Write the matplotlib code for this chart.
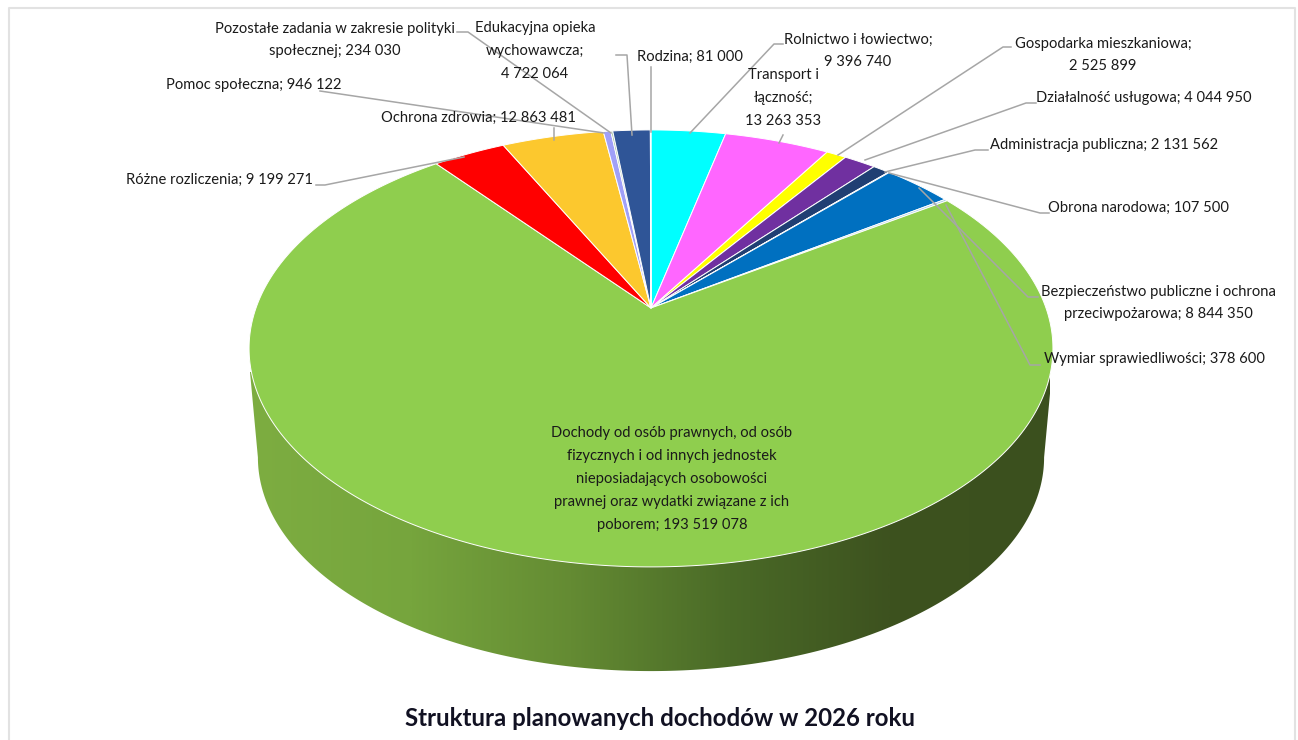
import numpy as np
import matplotlib
matplotlib.use('Agg')
import matplotlib.pyplot as plt
from matplotlib.colors import LinearSegmentedColormap
from matplotlib.patches import Polygon

plt.rcParams['font.family'] = ['Lato', 'DejaVu Sans']

# Slices in clockwise order, starting from the top of the pie
names = ['Rolnictwo i łowiectwo', 'Transport i łączność', 'Gospodarka mieszkaniowa',
         'Działalność usługowa', 'Administracja publiczna', 'Obrona narodowa',
         'Bezpieczeństwo publiczne i ochrona przeciwpożarowa', 'Wymiar sprawiedliwości',
         'Dochody od osób prawnych', 'Różne rozliczenia', 'Ochrona zdrowia',
         'Pomoc społeczna', 'Pozostałe zadania', 'Edukacyjna opieka wychowawcza', 'Rodzina']
values = [9396740, 13263353, 2525899, 4044950, 2131562, 107500, 8844350, 378600,
          193519078, 9199271, 12863481, 946122, 234030, 4722064, 81000]
colors = ['#00FFFF', '#FF66FF', '#FFFF00', '#7030A0', '#203F73', '#8FA8C8', '#0070C0', '#A6C8E6',
          '#8FCE4E', '#FF0000', '#FCC82E', '#A0A0F8', '#9CC09C', '#2F5597', '#8FAADC']

# Label text and position (px), elbow and end of the leader line
labels = ['Rolnictwo i łowiectwo;\n9 396 740', 'Transport i\nłączność;\n13 263 353',
          'Gospodarka mieszkaniowa;\n2 525 899', 'Działalność usługowa; 4 044 950',
          'Administracja publiczna; 2 131 562', 'Obrona narodowa; 107 500',
          'Bezpieczeństwo publiczne i ochrona\nprzeciwpożarowa; 8 844 350',
          'Wymiar sprawiedliwości; 378 600',
          'Dochody od osób prawnych, od osób\nfizycznych i od innych jednostek\n'
          'nieposiadających osobowości\nprawnej oraz wydatki związane z ich\npoborem; 193 519 078',
          'Różne rozliczenia; 9 199 271', 'Ochrona zdrowia; 12 863 481', 'Pomoc społeczna; 946 122',
          'Pozostałe zadania w zakresie polityki\nspołecznej; 234 030',
          'Edukacyjna opieka\nwychowawcza;\n4 722 064', 'Rodzina; 81 000']
label_x = [858, 783, 1103, 1144, 1104, 1138, 1158, 1155, 672, 219, 478, 254, 335, 535, 690]
label_y = [51, 98, 55, 98, 145, 208, 303, 359, 479, 180, 118, 85, 40, 51, 57]
leaders = [[(783, 44), (774, 44), (690, 133)], [(783, 135), (779, 143)],
           [(1011, 47), (1003, 47), (838, 155)], [(1036, 103), (1026, 103), (865, 160)],
           [(988, 150), (975, 150), (885, 172)], [(1049, 213), (1040, 213), (889, 173)],
           [(1038, 297), (1028, 297), (919, 188)], [(1040, 365), (1030, 365), (946, 205)],
           [], [(316, 185), (325, 185), (464, 157)], [(554, 128), (554, 140)],
           [(320, 91), (604, 133)], [(457, 32), (468, 32), (611, 133)],
           [(616, 55), (627, 55), (632, 135)], [(651, 67), (651, 132)]]

side_stops = ['#7DAD41', '#76A53D', '#648B33', '#4A6A27', '#3D521F', '#3B501E']

# Perspective of the pie top: apex at (cx, cy), k is the foreshortening
cx, cy = 651, 308
A, B, k = 395, 211, 0.185


def project(theta, r=1.0):
    u = r * np.sin(theta)
    v = r * np.cos(theta)
    w = 1 + k * v
    return cx + A * u / w, cy - B * v / w


fig = plt.figure(figsize=(12.98, 7.4), dpi=100, facecolor='white')
ax = fig.add_axes([0, 0, 1, 1])

# Side wall: lower rim is the top rim, a bit smaller and moved down
widest = np.arccos(-k)
t = np.linspace(widest, 2 * np.pi - widest, 300)
rim_x, rim_y = project(t)
rim_mid = cy + 40
low_x = cx + (rim_x - cx) * 0.978
low_y = rim_mid + (rim_y - rim_mid) * 0.978 + 109
side_x = np.r_[1052, low_x, 250]
side_y = np.r_[372, low_y, 372]
side_cmap = LinearSegmentedColormap.from_list('side', side_stops)
grad = ax.imshow(np.linspace(0, 1, 512).reshape(1, -1), cmap=side_cmap, extent=[250, 1050, 680, 340],
                 aspect='auto', zorder=1)
clip = Polygon(np.c_[side_x, side_y], closed=True, transform=ax.transData)
grad.set_clip_path(clip)

# Pie top
angles = np.r_[0, np.cumsum(values)] / sum(values) * 2 * np.pi
for i in range(len(values)):
    n = max(int((angles[i + 1] - angles[i]) * 200), 3)
    x, y = project(np.linspace(angles[i], angles[i + 1], n))
    ax.fill(np.r_[cx, x], np.r_[cy, y], color=colors[i], ec='white', lw=0.7, zorder=2, joinstyle='round')

# Leader lines and labels
for i in range(len(labels)):
    if leaders[i]:
        px, py = zip(*leaders[i])
        ax.plot(px, py, color='#A6A6A6', lw=1.1, zorder=3)
    ax.text(label_x[i], label_y[i], labels[i], ha='center', va='center', fontsize=10.6,
            linespacing=1.8, color='#1A1A1A', zorder=4)

ax.text(660, 719, 'Struktura planowanych dochodów w 2026 roku', ha='center', va='center',
        fontsize=17.3, fontweight='bold', color='#111122', zorder=4)

# Frame of the pasted chart
ax.plot([9, 9, 1295, 1295], [740, 8, 8, 740], color='#E2E2E2', lw=1.5, zorder=0)

ax.set_xlim(0, 1298)
ax.set_ylim(740, 0)
ax.axis('off')
fig.savefig('out.png', dpi=100)
